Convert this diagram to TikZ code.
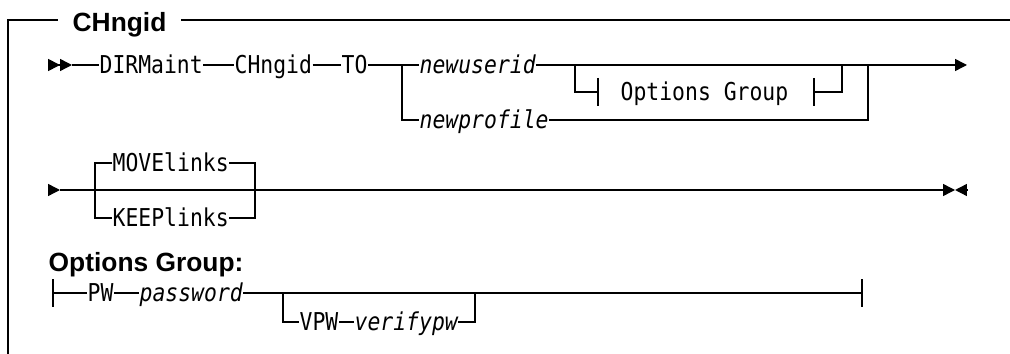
\documentclass[tikz,border=0pt]{standalone}
\usepackage{fontspec}
\setmainfont{Liberation Sans}
\newfontfamily\rrfont[FakeStretch=0.87]{DejaVu Sans Mono}
\usetikzlibrary{arrows.meta}

\begin{document}
\begin{tikzpicture}[
  x=0.02cm, y=-0.02cm, line width=0.8pt,
  kw/.style={font=\rrfont\fontsize{14}{16}\selectfont, inner sep=0pt, anchor=west,
    text height=0.36cm, text depth=0pt},
  var/.style={kw, font=\rrfont\itshape\fontsize{14}{16}\selectfont},
  title/.style={font=\bfseries\fontsize{15}{18}\selectfont, inner sep=0pt, anchor=base west},
  tip/.style={-{Triangle[length=6.8pt, width=6.8pt]}},
  dbltip/.style={-{Triangle[length=6.8pt, width=6.8pt]Triangle[length=6.8pt, width=6.8pt]}},
  bar/.style={line width=0.8pt}
]
\useasboundingbox (0,0) rectangle (1010,354);

% frame and title
\node (hdr) [title, inner xsep=0.28cm] at (58,32) {CHngid};
\coordinate (fc) at (8,20);
\coordinate (fb) at (8,354);
\coordinate (fr) at (1010,20);
\draw (fb) -- (fc) -- (hdr.west |- fc);
\draw (hdr.east |- fc) -- (fr);

% first line
\coordinate (s1) at (48,65);
\coordinate (s1b) at (72,65);
\node (dirm) [kw] at (99,65) {DIRMaint};
\node (chg) [kw] at (234,65) {CHngid};
\node (to) [kw] at (341,65) {TO};
\coordinate (b1) at (402,65);
\node (nuid) [var] at (419,65) {newuserid};
\node (nprof) [var] at (419,120) {newprofile};
\coordinate (b2) at (575,65);
\coordinate (ogl) at (598,92);
\node (og) [kw] at (620,92) {Options Group};
\coordinate (ogr) at (814,92);
\coordinate (j2) at (842,65);
\coordinate (j1) at (868,65);
\coordinate (e1) at (967,65);

\draw [dbltip] (s1) -- (s1b);
\draw (s1b) -- (dirm) -- (chg) -- (to) -- (b1) -- (nuid);
\draw (b1) |- (nprof);
\draw [tip] (nuid) -- (e1);
\draw (nprof) -| (j1);
\draw (b2) |- (ogl);
\draw [bar] ([yshift=0.28cm]ogl) -- ([yshift=-0.28cm]ogl);
\draw [bar] ([yshift=0.28cm]ogr) -- ([yshift=-0.28cm]ogr);
\draw (ogr) -| (j2);

% second line
\coordinate (s2) at (48,190);
\coordinate (s2b) at (60,190);
\coordinate (b3) at (95,190);
\node (move) [kw] at (112,163) {MOVElinks};
\node (keep) [kw] at (112,218) {KEEPlinks};
\coordinate (j3) at (255,190);
\coordinate (e2) at (955,190);
\coordinate (e2b) at (967,190);

\draw [tip] (s2) -- (s2b);
\draw [tip] (s2b) -- (e2);
\draw [tip] (e2b) -- (e2);
\draw (move) -| (b3) |- (keep);
\draw (move) -| (j3) |- (keep);

% options group
\node (oghdr) [title] at (48,272) {Options Group:};
\coordinate (o0) at (53,293);
\node (pw) [kw] at (87,293) {PW};
\node (pwd) [var] at (139,293) {password};
\coordinate (b4) at (283,293);
\node (vpw) [kw] at (299,322) {VPW};
\node (vpwd) [var] at (354,322) {verifypw};
\coordinate (j4) at (475,293);
\coordinate (o1) at (862,293);

\draw (o0) -- (pw) -- (pwd) -- (o1);
\draw (b4) |- (vpw);
\draw (vpw) -- (vpwd) -| (j4);
\draw [bar] ([yshift=0.28cm]o0) -- ([yshift=-0.28cm]o0);
\draw [bar] ([yshift=0.28cm]o1) -- ([yshift=-0.28cm]o1);

\end{tikzpicture}
\end{document}
